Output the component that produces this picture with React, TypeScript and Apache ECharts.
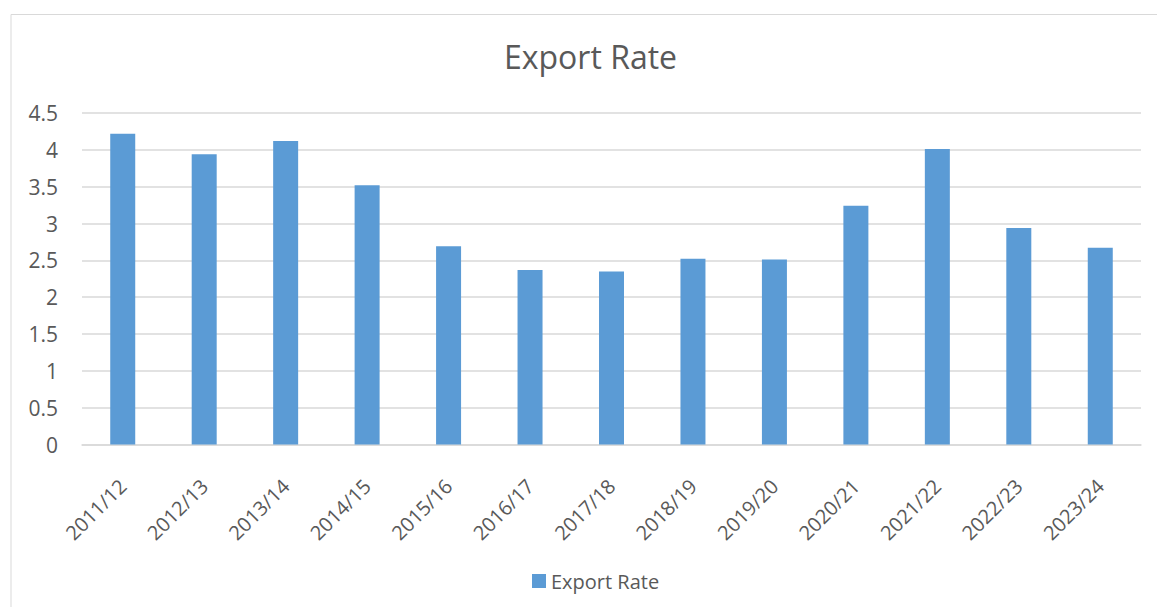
import React, { useEffect, useRef } from "react";
import * as echarts from "echarts";

const categories = ["2011/12","2012/13","2013/14","2014/15","2015/16","2016/17","2017/18","2018/19","2019/20","2020/21","2021/22","2022/23","2023/24"];
const exportRate = [4.22, 3.94, 4.12, 3.52, 2.69, 2.37, 2.35, 2.52, 2.51, 3.24, 4.01, 2.94, 2.67];
const seriesName = "Export Rate";
const titleText = "Export Rate";

export default function App() {
  const ref = useRef<HTMLDivElement>(null);
  useEffect(() => {
    const chart = echarts.init(ref.current!, null, { renderer: "svg" });
    const font = "'Open Sans', 'Noto Sans', sans-serif";
    chart.setOption({
      animation: false,
      backgroundColor: "#ffffff",
      textStyle: { fontFamily: font },
      graphic: [
        { type: "rect", shape: { x: 11, y: 14.5, width: 1200, height: 650 }, style: { fill: "none", stroke: "#d9d9d9", lineWidth: 1 }, silent: true },
      ],
      title: {
        text: titleText,
        left: 499,
        top: 35,
        textStyle: { fontFamily: font, fontSize: 32, fontWeight: "normal", color: "#595959" },
      },
      legend: {
        data: [seriesName],
        left: 527,
        top: 566,
        itemWidth: 14,
        itemHeight: 14,
        itemGap: 6,
        icon: "rect",
        textStyle: { fontFamily: font, fontSize: 20, color: "#595959" },
      },
      grid: { left: 82, right: 16, top: 113, bottom: 162.5, containLabel: false },
      xAxis: {
        type: "category",
        data: categories,
        axisLine: { lineStyle: { color: "#d9d9d9", width: 1.5 } },
        axisTick: { show: false },
        axisLabel: { rotate: 45, fontFamily: font, fontSize: 20, color: "#595959", margin: 38, interval: 0 },
      },
      yAxis: {
        type: "value",
        min: 0,
        max: 4.5,
        interval: 0.5,
        axisLine: { show: false },
        axisTick: { show: false },
        splitLine: { lineStyle: { color: "#d9d9d9", width: 1.5 } },
        axisLabel: { fontFamily: font, fontSize: 21, color: "#595959", margin: 24 },
      },
      series: [
        {
          name: seriesName,
          type: "bar",
          data: exportRate,
          barWidth: 25,
          itemStyle: { color: "#5b9bd5" },
        },
      ],
    });
    return () => chart.dispose();
  }, []);
  return <div ref={ref} style={{ width: 1157, height: 607, position: "absolute", left: 0, top: 0 }} />;
}
